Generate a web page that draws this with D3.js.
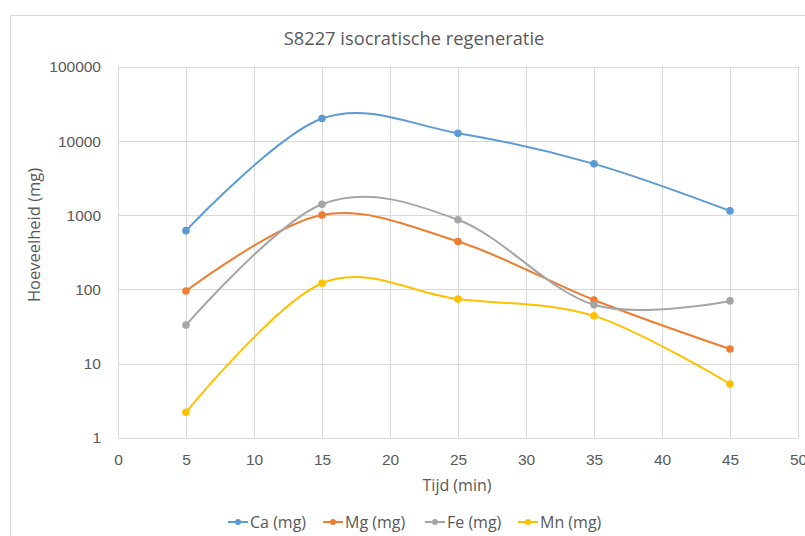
<!DOCTYPE html>
<html>
<head>
<meta charset="utf-8">
<script src="https://cdn.jsdelivr.net/npm/d3@7"></script>
<style>
  html, body { margin: 0; padding: 0; background: #fff; }
  svg { display: block; font-family: "Open Sans", "Noto Sans", sans-serif; }
</style>
</head>
<body>
<svg id="chart" width="805" height="536"></svg>
<script>
// Sampling times (min)
const times = [5, 15, 25, 35, 45];
// Amounts per element (mg)
const ca = [620, 20200, 12800, 4940, 1145];
const mg = [95, 1010, 442, 72, 15.7];
const fe = [33, 1410, 870, 62, 70];
const mn = [2.2, 121, 74, 44, 5.3];

const seriesNames = ["Ca (mg)", "Mg (mg)", "Fe (mg)", "Mn (mg)"];
const seriesColors = ["#5b9bd5", "#ed7d31", "#a5a5a5", "#ffc000"];
const seriesValues = [ca, mg, fe, mn];

const xTicks = [0, 5, 10, 15, 20, 25, 30, 35, 40, 45, 50];
const yTicks = [1, 10, 100, 1000, 10000, 100000];

const titleText = "S8227 isocratische regeneratie";
const xTitle = "Tijd (min)";
const yTitle = "Hoeveelheid (mg)";

const svg = d3.select("#chart");
const textColor = "#595959";
const gridColor = "#d9d9d9";

// Chart frame
svg.append("rect")
  .attr("x", 10.5).attr("y", 15.5)
  .attr("width", 820).attr("height", 560)
  .attr("fill", "#fff").attr("stroke", gridColor).attr("stroke-width", 1);

const plot = { left: 118, right: 798, top: 67, bottom: 437.7 };

const x = d3.scaleLinear().domain([0, 50]).range([plot.left, plot.right]);
const y = d3.scaleLog().domain([1, 100000]).range([plot.bottom, plot.top]);

// Gridlines
const grid = svg.append("g");
grid.selectAll("line.h").data(yTicks).join("line")
  .attr("x1", plot.left).attr("x2", plot.right)
  .attr("y1", d => Math.round(y(d)) + 0.5).attr("y2", d => Math.round(y(d)) + 0.5)
  .attr("stroke", gridColor).attr("stroke-width", 1);
grid.selectAll("line.v").data(xTicks).join("line")
  .attr("y1", plot.top).attr("y2", plot.bottom)
  .attr("x1", d => Math.round(x(d)) + 0.5).attr("x2", d => Math.round(x(d)) + 0.5)
  .attr("stroke", gridColor).attr("stroke-width", 1);

// Axes (labels only, Excel-style)
const yAxis = d3.axisLeft(y).tickValues(yTicks).tickFormat(d3.format("d")).tickSize(0).tickPadding(17);
const gy = svg.append("g").attr("transform", `translate(${plot.left},0)`).call(yAxis);
gy.select(".domain").remove();
gy.selectAll("text").attr("fill", textColor).style("font-size", "15.5px");

const xAxis = d3.axisBottom(x).tickValues(xTicks).tickSize(0).tickPadding(16);
const gx = svg.append("g").attr("transform", `translate(0,${plot.bottom})`).call(xAxis);
gx.select(".domain").remove();
gx.selectAll("text").attr("fill", textColor).style("font-size", "15.5px");

// Titles
svg.append("text").attr("x", 414).attr("y", 45).attr("text-anchor", "middle")
  .attr("fill", textColor).style("font-size", "18.3px").text(titleText);
svg.append("text").attr("x", 457).attr("y", 491).attr("text-anchor", "middle")
  .attr("fill", textColor).style("font-size", "16px").text(xTitle);
svg.append("text").attr("transform", "translate(40,235) rotate(-90)").attr("text-anchor", "middle")
  .attr("fill", textColor).style("font-size", "16.5px").text(yTitle);

// Smoothed series lines with markers
const line = d3.line()
  .x(d => x(d[0])).y(d => y(d[1]))
  .curve(d3.curveCardinal.tension(0));

seriesValues.forEach((vals, i) => {
  const pts = times.map((t, j) => [t, vals[j]]);
  const g = svg.append("g");
  g.append("path").datum(pts).attr("d", line)
    .attr("fill", "none").attr("stroke", seriesColors[i]).attr("stroke-width", 2)
    .attr("stroke-linecap", "round");
  g.selectAll("circle").data(pts).join("circle")
    .attr("cx", d => x(d[0])).attr("cy", d => y(d[1])).attr("r", 3.8)
    .attr("fill", seriesColors[i]);
});

// Legend
const legendX = [228, 323, 425, 518];
const legendY = 522;
const lg = svg.append("g");
seriesNames.forEach((name, i) => {
  const gx0 = legendX[i];
  lg.append("line").attr("x1", gx0).attr("x2", gx0 + 20)
    .attr("y1", legendY).attr("y2", legendY)
    .attr("stroke", seriesColors[i]).attr("stroke-width", 2);
  lg.append("circle").attr("cx", gx0 + 10).attr("cy", legendY).attr("r", 3).attr("fill", seriesColors[i]);
  lg.append("text").attr("x", gx0 + 22).attr("y", legendY + 5.5)
    .attr("fill", textColor).style("font-size", "16px").text(name);
});
</script>
</body>
</html>
